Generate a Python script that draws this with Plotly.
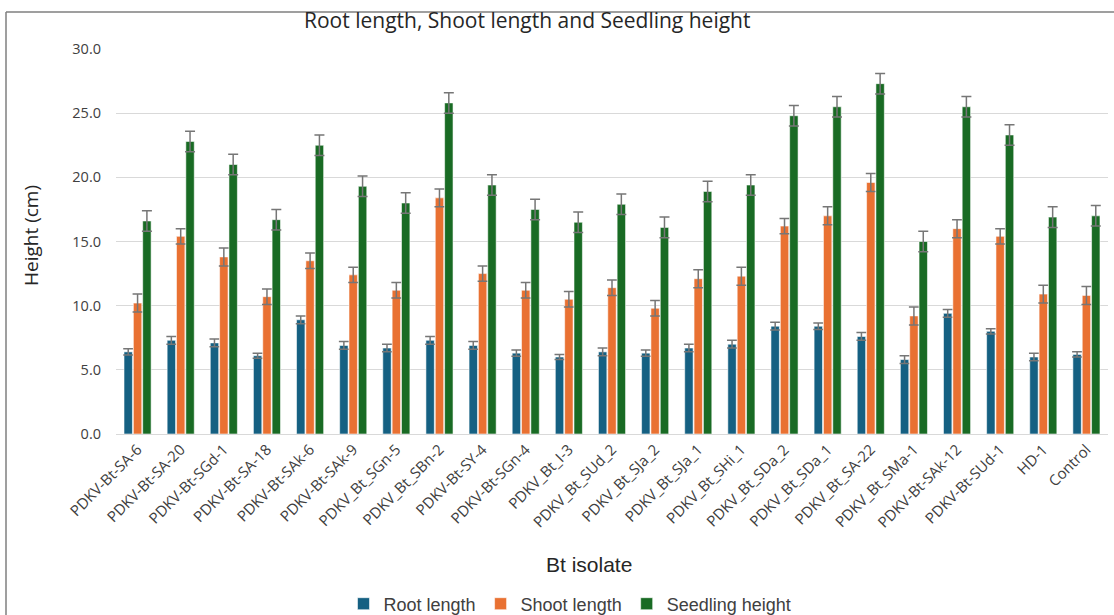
import plotly.graph_objects as go

categories = ["PDKV-Bt-SA-6", "PDKV-Bt-SA-20", "PDKV-Bt-SGd-1", "PDKV-Bt-SA-18", "PDKV-Bt-SAk-6",
              "PDKV-Bt-SAk-9", "PDKV_Bt_SGn-5", "PDKV_Bt_SBn-2", "PDKV-Bt-SY-4", "PDKV-Bt-SGn-4",
              "PDKV_Bt_I-3", "PDKV_Bt_SUd_2", "PDKV_Bt_SJa_2", "PDKV_Bt_SJa_1", "PDKV_Bt_SHi_1",
              "PDKV_Bt_SDa_2", "PDKV_Bt_SDa_1", "PDKV_Bt_SA-22", "PDKV_Bt_SMa-1", "PDKV-Bt-SAk-12",
              "PDKV-Bt-SUd-1", "HD-1", "Control"]

root_length = [6.4, 7.3, 7.1, 6.1, 8.9, 6.9, 6.7, 7.3, 6.9, 6.3, 6.0, 6.4, 6.3, 6.7, 7.0,
               8.4, 8.4, 7.6, 5.8, 9.4, 8.0, 6.0, 6.2]
root_err = [0.25, 0.3, 0.3, 0.2, 0.3, 0.3, 0.3, 0.3, 0.3, 0.25, 0.2, 0.3, 0.25, 0.3, 0.3,
            0.3, 0.25, 0.3, 0.3, 0.3, 0.2, 0.3, 0.2]

shoot_length = [10.2, 15.4, 13.8, 10.7, 13.5, 12.4, 11.2, 18.4, 12.5, 11.2, 10.5, 11.4, 9.8, 12.1, 12.3,
                16.2, 17.0, 19.6, 9.2, 16.0, 15.4, 10.9, 10.8]
shoot_err = [0.7, 0.6, 0.7, 0.6, 0.6, 0.6, 0.6, 0.7, 0.6, 0.6, 0.6, 0.6, 0.6, 0.7, 0.7,
             0.6, 0.7, 0.7, 0.7, 0.7, 0.6, 0.7, 0.7]

seedling_height = [16.6, 22.8, 21.0, 16.7, 22.5, 19.3, 18.0, 25.8, 19.4, 17.5, 16.5, 17.9, 16.1, 18.9, 19.4,
                   24.8, 25.5, 27.3, 15.0, 25.5, 23.3, 16.9, 17.0]
seedling_err = [0.8] * 23

series = [
    ("Root length", root_length, root_err, "#156082"),
    ("Shoot length", shoot_length, shoot_err, "#E97132"),
    ("Seedling height", seedling_height, seedling_err, "#196B24"),
]

fig = go.Figure()
for name, vals, errs, color in series:
    fig.add_trace(go.Bar(
        name=name, x=categories, y=vals,
        marker=dict(color=color, line=dict(color="rgba(255,255,255,0.7)", width=0.8)),
        error_y=dict(type="data", array=errs, symmetric=True, color="#767676", thickness=1.5, width=5),
    ))

W, H = 1114, 615
L, R, T, B = 116, 6, 49, 181
pw, ph = W - L - R, H - T - B

def px(x):
    return (x - L) / pw

def py(y):
    return (H - B - y) / ph

fig.update_layout(
    width=W, height=H,
    margin=dict(l=L, r=R, t=T, b=B, autoexpand=False),
    paper_bgcolor="white", plot_bgcolor="white",
    barmode="group", bargap=0.35, bargroupgap=0.1,
    showlegend=True,
    legend=dict(orientation="h", x=px(570), xanchor="center", y=py(604), yanchor="middle",
                font=dict(family="Liberation Sans, Arial", size=18, color="#404040"),
                itemwidth=30, tracegroupgap=0),
    xaxis=dict(tickangle=-45, tickfont=dict(family="Open Sans", size=15, color="#404040"),
               showline=True, linecolor="#d9d9d9", linewidth=1, showgrid=False),
    yaxis=dict(range=[0, 30], dtick=5, tickformat=".1f", showgrid=True, gridcolor="#d9d9d9",
               gridwidth=1, zeroline=False, ticklabelstandoff=14,
               tickfont=dict(family="Open Sans", size=14.5, color="#404040")),
    annotations=[
        dict(text="Root length, Shoot length and Seedling height", x=px(527), y=py(20),
             xref="paper", yref="paper", showarrow=False, xanchor="center", yanchor="middle",
             font=dict(family="Open Sans", size=21, color="#262626")),
        dict(text="Height (cm)", x=px(31), y=py(236), xref="paper", yref="paper", showarrow=False,
             textangle=-90, xanchor="center", yanchor="middle",
             font=dict(family="Open Sans", size=19, color="#262626")),
        dict(text="Bt isolate", x=px(589), y=py(564), xref="paper", yref="paper", showarrow=False,
             xanchor="center", yanchor="middle",
             font=dict(family="Liberation Sans, Arial", size=21, color="#262626")),
    ],
    shapes=[
        dict(type="line", xref="paper", yref="paper", x0=px(6), x1=px(1114), y0=py(12), y1=py(12),
             line=dict(color="#7f7f7f", width=1.5)),
        dict(type="line", xref="paper", yref="paper", x0=px(6), x1=px(6), y0=py(12), y1=py(615),
             line=dict(color="#7f7f7f", width=1.5)),
    ],
)

fig.write_html("out.html", config={"displayModeBar": False},
               post_script="document.body.style.margin='0';document.body.style.overflow='hidden';")
